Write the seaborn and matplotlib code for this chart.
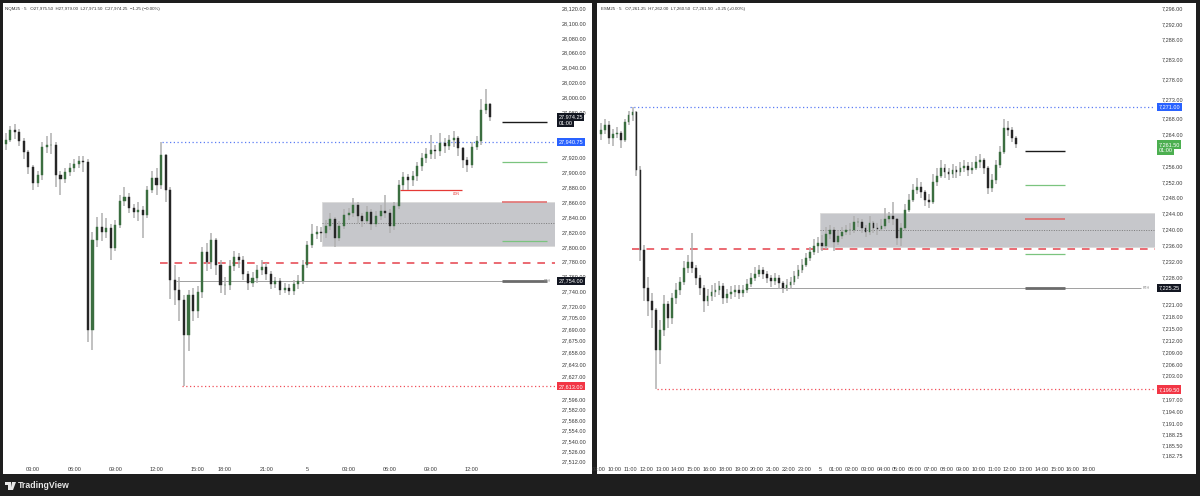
# NQ / ES 5m charts, TradingView-style layout redone with seaborn + matplotlib
import numpy as np
import pandas as pd
import matplotlib
matplotlib.use("Agg")
import matplotlib.pyplot as plt
from matplotlib.patches import Rectangle, Polygon
from matplotlib.transforms import offset_copy
import seaborn as sns

# ---------------- NQM25 (left panel), 20-minute candles ----------------
nq_first_open = 27938
nq_close = [27943, 27956, 27954, 27942, 27927, 27907, 27885, 27896, 27934, 27936,
            27936, 27896, 27891, 27900, 27906, 27911, 27915, 27914, 27688, 27809,
            27826, 27820, 27825, 27798, 27829, 27861, 27867, 27852, 27847, 27849,
            27843, 27876, 27892, 27883, 27923, 27876, 27755, 27742, 27729, 27682,
            27735, 27714, 27739, 27793, 27779, 27809, 27776, 27749, 27749, 27774,
            27786, 27782, 27763, 27751, 27758, 27769, 27773, 27763, 27750, 27754,
            27742, 27745, 27741, 27750, 27754, 27776, 27802, 27817, 27820, 27818,
            27828, 27837, 27812, 27828, 27843, 27845, 27856, 27841, 27834, 27847,
            27830, 27841, 27848, 27845, 27828, 27855, 27883, 27894, 27889, 27895,
            27908, 27919, 27924, 27930, 27928, 27939, 27935, 27943, 27946, 27932,
            27916, 27910, 27934, 27942, 27983, 27991, 27974.25]
nq_high = [27952, 27962, 27965, 27958, 27946, 27930, 27910, 27902, 27940, 27948,
           27952, 27940, 27902, 27906, 27912, 27918, 27922, 27921, 27918, 27820,
           27840, 27845, 27838, 27830, 27836, 27870, 27880, 27872, 27858, 27860,
           27855, 27882, 27902, 27905, 27940, 27925, 27880, 27775, 27760, 27735,
           27742, 27745, 27748, 27800, 27805, 27818, 27812, 27782, 27760, 27782,
           27795, 27792, 27788, 27768, 27766, 27775, 27782, 27778, 27768, 27760,
           27758, 27752, 27750, 27756, 27762, 27782, 27808, 27830, 27828, 27826,
           27836, 27845, 27840, 27835, 27850, 27852, 27866, 27860, 27845, 27855,
           27850, 27848, 27856, 27870, 27850, 27860, 27890, 27900, 27898, 27902,
           27914, 27926, 27932, 27950, 27936, 27952, 27946, 27950, 27955, 27948,
           27934, 27920, 27940, 27948, 27998, 28012, 27993]
nq_low = [27930, 27940, 27945, 27935, 27918, 27898, 27876, 27880, 27890, 27926,
          27925, 27880, 27870, 27885, 27895, 27900, 27905, 27900, 27672, 27662,
          27800, 27808, 27812, 27782, 27795, 27825, 27855, 27845, 27838, 27835,
          27812, 27838, 27872, 27870, 27878, 27860, 27730, 27722, 27700, 27613,
          27660, 27700, 27705, 27732, 27768, 27770, 27762, 27738, 27735, 27742,
          27768, 27772, 27755, 27742, 27746, 27752, 27762, 27755, 27744, 27745,
          27736, 27738, 27735, 27736, 27744, 27750, 27772, 27798, 27810, 27806,
          27812, 27822, 27800, 27808, 27824, 27836, 27840, 27832, 27826, 27830,
          27822, 27826, 27836, 27838, 27818, 27822, 27850, 27876, 27876, 27882,
          27888, 27902, 27912, 27918, 27918, 27922, 27926, 27930, 27934, 27922,
          27905, 27900, 27906, 27930, 27936, 27978, 27968]
nq_t0, nq_dt = -2.0, 1 / 3          # session hours on the time axis

nq_price_ticks = [28120, 28100, 28080, 28060, 28040, 28020, 28000, 27980,
                  27920, 27900, 27880, 27860, 27840, 27820, 27800, 27780, 27760,
                  27740, 27720, 27705, 27690, 27675, 27658, 27643, 27627,
                  27596, 27582, 27568, 27554, 27540, 27526, 27512]
nq_time_pos = [0, 3, 6, 9, 12, 14, 17, 20, 23, 26, 29, 32]
nq_time_lbl = ["03:00", "06:00", "09:00", "12:00", "15:00", "18:00",
               "21:00", "5", "03:00", "06:00", "09:00", "12:00"]

nq_zone = (21.06, 27801, 27860, 27832)          # start, bottom, top, mid
nq_red_dash = (9.26, 27778)
nq_blue_dot = (9.4, 27940.75)
nq_red_dot = (10.86, 27613)
nq_rth = (10.4, 27754)
nq_ldn = (26.75, 31.27, 27876)
nq_short = (34.2, 37.5)
nq_short_lvls = [27967, 27914, 27860, 27808, 27754]

# ---------------- ESM25 (right panel), 15-minute candles ----------------
es_first_open = 7264.0
es_close = [7265.25, 7266.5, 7263.0, 7264.25, 7264.5, 7262.5, 7267.25, 7269.0, 7269.75, 7255.0,
            7234.75, 7225.25, 7222.0, 7219.5, 7209.5, 7214.5, 7221.0, 7217.5, 7222.75, 7224.75,
            7226.75, 7230.25, 7231.75, 7230.25, 7227.75, 7225.25, 7222.0, 7223.25, 7224.25, 7224.75,
            7225.75, 7222.75, 7223.75, 7224.25, 7224.75, 7224.0, 7224.75, 7226.25, 7227.75, 7228.75,
            7229.75, 7228.75, 7227.75, 7227.0, 7227.75, 7226.5, 7225.25, 7226.0, 7226.75, 7228.25,
            7229.75, 7231.0, 7232.75, 7234.25, 7235.75, 7236.5, 7235.75, 7238.75, 7239.75, 7236.75,
            7238.25, 7239.25, 7239.75, 7239.75, 7241.75, 7241.75, 7240.25, 7239.25, 7241.5, 7240.25,
            7240.0, 7240.75, 7242.75, 7243.5, 7242.5, 7237.75, 7240.25, 7245.0, 7247.5, 7250.0,
            7250.75, 7249.5, 7247.5, 7247.0, 7252.0, 7253.5, 7255.5, 7254.5, 7254.0, 7255.0,
            7254.5, 7255.5, 7256.0, 7255.0, 7255.5, 7257.0, 7257.5, 7255.5, 7250.5, 7252.5,
            7256.25, 7259.5, 7265.75, 7265.25, 7263.0, 7261.5]
es_high = [7267.0, 7268.0, 7267.5, 7265.5, 7266.0, 7265.0, 7268.0, 7270.0, 7271.0, 7270.0,
           7256.0, 7236.0, 7228.0, 7224.0, 7220.0, 7217.0, 7223.5, 7222.0, 7224.0, 7226.5,
           7228.0, 7232.0, 7233.5, 7239.0, 7231.0, 7228.5, 7226.0, 7225.0, 7226.0, 7226.5,
           7227.0, 7226.5, 7225.0, 7225.75, 7226.0, 7226.0, 7226.0, 7227.5, 7229.0, 7230.5,
           7231.0, 7230.5, 7229.5, 7228.5, 7229.0, 7228.5, 7227.0, 7227.5, 7228.0, 7229.5,
           7231.0, 7232.5, 7234.0, 7235.5, 7237.5, 7238.0, 7238.5, 7240.5, 7241.0, 7240.5,
           7239.5, 7240.5, 7241.0, 7241.5, 7243.5, 7243.0, 7242.5, 7241.0, 7243.5, 7242.0,
           7241.5, 7242.5, 7245.5, 7244.5, 7247.0, 7243.0, 7241.5, 7246.5, 7249.0, 7251.5,
           7253.0, 7252.0, 7250.0, 7249.0, 7254.0, 7255.5, 7257.5, 7256.5, 7255.5, 7256.5,
           7256.0, 7257.0, 7257.5, 7257.0, 7257.0, 7258.5, 7259.0, 7258.0, 7256.0, 7254.0,
           7257.5, 7261.0, 7268.0, 7267.5, 7266.0, 7263.5]
es_low = [7262.5, 7264.0, 7261.5, 7261.0, 7263.0, 7260.5, 7262.0, 7266.5, 7267.5, 7253.5,
          7232.0, 7222.0, 7218.0, 7215.0, 7199.5, 7206.0, 7213.0, 7215.0, 7216.0, 7221.0,
          7223.5, 7226.0, 7229.0, 7229.0, 7226.0, 7223.5, 7219.0, 7220.5, 7222.0, 7223.0,
          7223.5, 7221.0, 7221.5, 7222.5, 7223.0, 7222.5, 7223.0, 7224.0, 7225.5, 7227.0,
          7228.0, 7227.5, 7226.5, 7225.5, 7226.0, 7225.0, 7224.0, 7224.5, 7225.0, 7226.0,
          7227.5, 7229.0, 7230.5, 7232.0, 7233.5, 7234.0, 7234.5, 7235.0, 7237.5, 7234.5,
          7236.0, 7237.5, 7238.5, 7238.5, 7239.0, 7240.5, 7239.0, 7238.0, 7238.5, 7239.0,
          7238.5, 7239.5, 7240.0, 7241.5, 7241.0, 7236.0, 7235.75, 7239.5, 7244.5, 7247.0,
          7249.0, 7248.0, 7246.0, 7245.5, 7246.5, 7251.0, 7253.0, 7253.0, 7252.5, 7253.0,
          7253.0, 7253.5, 7254.5, 7253.5, 7254.0, 7255.0, 7255.5, 7254.0, 7249.0, 7249.5,
          7251.5, 7255.5, 7259.0, 7263.5, 7262.0, 7260.5]
es_t0, es_dt = 0.125, 0.25

es_price_ticks = [7296, 7292, 7288, 7283, 7278, 7273, 7268, 7264, 7256, 7252,
                  7248, 7244, 7240, 7236, 7232, 7228, 7221, 7218, 7215, 7212,
                  7209, 7206, 7203, 7197, 7194, 7191, 7188.25, 7185.5, 7182.75]
es_time_pos = list(range(0, 32))
es_time_lbl = ["09:00", "10:00", "11:00", "12:00", "13:00", "14:00", "15:00", "16:00",
               "18:00", "19:00", "20:00", "21:00", "22:00", "23:00", "5",
               "01:00", "02:00", "03:00", "04:00", "05:00", "06:00", "07:00", "08:00",
               "09:00", "10:00", "11:00", "12:00", "13:00", "14:00", "15:00", "16:00", "18:00"]

es_zone = (14.0, 7235.6, 7244.1, 7239.8)
es_red_dash = (2.1, 7235.0)
es_blue_dot = (1.96, 7271.0)
es_red_dot = (3.67, 7199.5)
es_rth = (9.24, 7225.25)
es_short = (26.96, 29.5)
es_short_lvls = [7259.8, 7251.2, 7242.6, 7233.8, 7225.25]

# ---------------- style ----------------
sns.set_theme(style="white")
plt.rcParams["font.family"] = ["Liberation Sans", "DejaVu Sans"]

BG = "#1e1e1e"
UP = "#3b6e40"
DOWN = "#262626"
WICK = "#b0b0b0"
TXT = "#3a3a3a"
BLUE = "#2962ff"
RED = "#f23645"
GREEN = "#4caf50"
DARK = "#131722"
short_colors = ["#1a1a1a", "#7bc47f", "#e06666", "#7bc47f", "#6b6b6b"]
short_widths = [1.0, 0.9, 1.1, 0.9, 2.0]

W, H = 1200, 496
fig = plt.figure(figsize=(12, 4.96), dpi=100, facecolor=BG)

# white chart panes (drawn underneath the axes)
for x0, x1 in [(3, 592), (597, 1196)]:
    fig.patches.append(Rectangle((x0 / W, 22 / H), (x1 - x0) / W, 471 / H,
                                 transform=fig.transFigure, fc="white", ec="none", zorder=-5))

ax_nq = fig.add_axes([3 / W, 34 / H, 552 / W, 459 / H])
ax_es = fig.add_axes([598 / W, 34 / H, 557 / W, 459 / H])


def make_df(first_open, close, high, low, t0, dt):
    df = pd.DataFrame({"close": close, "high": high, "low": low})
    df["open"] = [first_open] + list(df["close"][:-1])
    df["t"] = t0 + dt * np.arange(len(df))
    df["high"] = df[["high", "open", "close"]].max(axis=1)
    df["low"] = df[["low", "open", "close"]].min(axis=1)
    return df


def draw_candles(ax, df, width):
    up = df["close"] >= df["open"]
    ax.vlines(df["t"], df["low"], df["high"], color=WICK, lw=1.1, zorder=3)
    for mask, col in [(up, UP), (~up, DOWN)]:
        d = df[mask]
        ax.bar(d["t"], (d["close"] - d["open"]).abs(), bottom=d[["open", "close"]].min(axis=1),
               width=width, color=col, edgecolor=col, lw=0.3, zorder=4)


def marker(ax, y, text, color, extra=None):
    tr = ax.get_yaxis_transform()
    ax.text(1.006, y, text, transform=tr, ha="left", va="center", fontsize=4,
            color="white", zorder=10, clip_on=False,
            bbox=dict(boxstyle="square,pad=0.3", fc=color, ec="none"))
    if extra:
        ax.text(1.006, y, extra, transform=offset_copy(tr, fig=fig, y=-4.6, units="points"),
                ha="left", va="center", fontsize=4, color="white", zorder=10, clip_on=False,
                bbox=dict(boxstyle="square,pad=0.3", fc=color, ec="none"))


def style_axis(ax, xlim, ylim, pticks, pfmt, tpos, tlbl):
    ax.set_xlim(*xlim)
    ax.set_ylim(*ylim)
    ax.patch.set_alpha(0)
    sns.despine(ax=ax, left=True, bottom=True)
    ax.yaxis.tick_right()
    ax.set_yticks(pticks)
    ax.set_yticklabels([pfmt.format(v) for v in pticks])
    ax.set_xticks(tpos)
    ax.set_xticklabels(tlbl)
    ax.tick_params(axis="y", length=0, pad=4.5, labelsize=4, labelcolor=TXT)
    ax.tick_params(axis="x", length=0, pad=3.5, labelsize=4, labelcolor=TXT)
    ax.grid(False)


def draw_levels(ax, xmax, zone, red_dash, blue_dot, red_dot, rth, short, short_lvls):
    z0, zb, zt, zm = zone
    ax.add_patch(Rectangle((z0, zb), xmax - z0, zt - zb, fc="#c6c7cb", ec="#dadada",
                           lw=0.6, zorder=1))
    ax.hlines(zm, z0, xmax, color="#7a7a7a", lw=0.7, linestyles=(0, (1, 1.5)), zorder=2)
    ax.hlines(red_dash[1], red_dash[0], xmax, color="#e5414b", lw=1.1,
              linestyles=(0, (5, 4.5)), zorder=2)
    ax.hlines(blue_dot[1], blue_dot[0], xmax, color="#5b7cf5", lw=0.9,
              linestyles=(0, (1, 2)), zorder=2)
    ax.hlines(red_dot[1], red_dot[0], xmax, color="#f0505a", lw=0.9,
              linestyles=(0, (1, 2)), zorder=2)
    ax.hlines(rth[1], rth[0], xmax - 0.9, color="#a0a0a0", lw=0.7, zorder=2)
    ax.text(xmax - 0.8, rth[1], "RTH", fontsize=2.5, color="#888888", va="center", ha="left")
    for lvl, col, lw in zip(short_lvls, short_colors, short_widths):
        ax.hlines(lvl, short[0], short[1], color=col, lw=lw, zorder=2)


nq = make_df(nq_first_open, nq_close, nq_high, nq_low, nq_t0, nq_dt)
es = make_df(es_first_open, es_close, es_high, es_low, es_t0, es_dt)

nq_xlim = (-2.19, 38.05)
es_xlim = (-0.06, 35.19)
style_axis(ax_nq, nq_xlim, (27511.6, 28126.7), nq_price_ticks, "{:,.2f}", nq_time_pos, nq_time_lbl)
style_axis(ax_es, es_xlim, (7181.16, 7297.26), es_price_ticks, "{:,.2f}", es_time_pos, es_time_lbl)

draw_levels(ax_nq, nq_xlim[1], nq_zone, nq_red_dash, nq_blue_dot, nq_red_dot, nq_rth,
            nq_short, nq_short_lvls)
draw_levels(ax_es, es_xlim[1], es_zone, es_red_dash, es_blue_dot, es_red_dot, es_rth,
            es_short, es_short_lvls)

# London session low line (left only)
ax_nq.hlines(nq_ldn[2], nq_ldn[0], nq_ldn[1], color="#e53935", lw=0.9, zorder=2)
ax_nq.text(nq_ldn[1] - 0.2, nq_ldn[2] - 2.5, "LDN", fontsize=2.5, color="#e53935",
           ha="right", va="top")

draw_candles(ax_nq, nq, nq_dt * 0.45)
draw_candles(ax_es, es, es_dt * 0.45)

# price-scale labels
marker(ax_nq, 27974.25, "27,974.25", DARK, extra="01:00")
marker(ax_nq, 27940.75, "27,940.75", BLUE)
marker(ax_nq, 27754.00, "27,754.00", DARK)
marker(ax_nq, 27613.00, "27,613.00", RED)
marker(ax_es, 7271.00, "7,271.00", BLUE)
marker(ax_es, 7261.50, "7,261.50", GREEN, extra="01:00")
marker(ax_es, 7225.25, "7,225.25", DARK)
marker(ax_es, 7199.50, "7,199.50", RED)

# legends / headers
fig.text(5 / W, 1 - 9 / H, "NQM25 · 5   O27,975.50  H27,979.00  L27,971.50  C27,974.25  −1.25 (−0.00%)",
         fontsize=3.2, color="#333333", va="center")
fig.text(601 / W, 1 - 9 / H, "ESM25 · 5   O7,261.25  H7,262.00  L7,260.50  C7,261.50  +0.25 (+0.00%)",
         fontsize=3.2, color="#333333", va="center")

# footer logo + wordmark
fig.patches.append(Polygon([(5 / W, 1 - 482 / H), (11 / W, 1 - 482 / H), (11 / W, 1 - 490 / H),
                            (8 / W, 1 - 490 / H), (8 / W, 1 - 485 / H), (5 / W, 1 - 485 / H)],
                           closed=True, transform=fig.transFigure, fc="#e8e8e8", ec="none"))
fig.patches.append(Polygon([(12 / W, 1 - 482 / H), (16 / W, 1 - 482 / H), (13 / W, 1 - 490 / H),
                            (10.5 / W, 1 - 490 / H)],
                           closed=True, transform=fig.transFigure, fc="#e8e8e8", ec="none"))
fig.text(18 / W, 1 - 486 / H, "TradingView", fontsize=6.3, color="#e8e8e8", va="center",
         fontweight="bold")

fig.savefig("out.png", dpi=100, facecolor=BG)
